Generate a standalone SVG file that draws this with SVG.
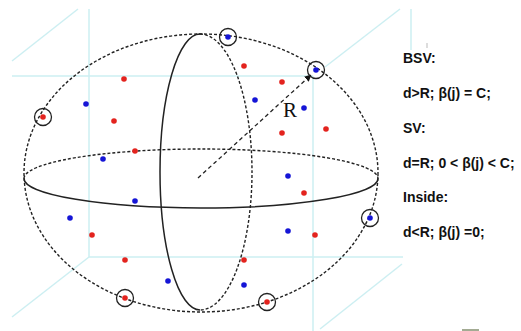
<svg xmlns="http://www.w3.org/2000/svg" width="521" height="331" viewBox="0 0 521 331">
  <style>
    .cube { stroke: #cdeff2; stroke-width: 1.5; fill: none; }
    .dash { stroke: #222; stroke-width: 1.4; fill: none; stroke-dasharray: 3 2; }
    .solid { stroke: #222; stroke-width: 1.5; fill: none; }
    .red { fill: #e3231e; }
    .blue { fill: #1515d6; }
    .ring { stroke: #222; stroke-width: 1.3; fill: none; }
    .lbl { font-family: "Liberation Sans", Arial, sans-serif; font-weight: bold; font-size: 14px; fill: #111; }
  </style>
  <defs>
    <marker id="ah" viewBox="0 0 10 10" refX="9" refY="5" markerWidth="7" markerHeight="7" markerUnits="userSpaceOnUse" orient="auto">
      <path d="M0,0 L10,5 L0,10 z" fill="#111"/>
    </marker>
  </defs>
  <rect width="521" height="331" fill="#fff"/>

  <g id="cube">
    <line class="cube" x1="12" y1="61" x2="78" y2="9"/>
    <line class="cube" x1="89" y1="9" x2="89" y2="257"/>
    <line class="cube" x1="12" y1="76" x2="313" y2="76"/>
    <line class="cube" x1="313" y1="76" x2="313" y2="331"/>
    <line class="cube" x1="325" y1="67" x2="400" y2="9"/>
    <line class="cube" x1="411" y1="9" x2="411" y2="50"/>
    <line class="cube" x1="89" y1="257" x2="403" y2="257"/>
    <line class="cube" x1="12" y1="317" x2="89" y2="257"/>
    <line class="cube" x1="320" y1="329" x2="402" y2="264"/>
  </g>

  <g id="sphere">
    <ellipse class="dash" cx="201" cy="173" rx="177" ry="139"/>
    <path class="dash" d="M24,178.5 A177,29.5 0 0 1 378,178.5"/>
    <path class="solid" d="M24,178.5 A177,29.5 0 0 0 378,178.5"/>
    <path class="solid" d="M200,34 A40,138 0 0 0 200,310"/>
    <path class="dash" d="M200,34 A52,138 0 0 1 200,310"/>
  </g>

  <g id="connectors">
    <line x1="198" y1="178" x2="311" y2="75" stroke="#222" stroke-width="1.3" stroke-dasharray="4 3" marker-end="url(#ah)"/>
  </g>

  <g id="points">
    <circle class="blue" cx="228" cy="37" r="2.8"/>
    <circle class="blue" cx="86" cy="104" r="2.8"/>
    <circle class="blue" cx="255" cy="100" r="2.8"/>
    <circle class="blue" cx="103" cy="159" r="2.8"/>
    <circle class="blue" cx="316" cy="70" r="2.8"/>
    <circle class="blue" cx="304" cy="108" r="2.8"/>
    <circle class="blue" cx="288" cy="176" r="2.8"/>
    <circle class="blue" cx="135" cy="201" r="2.8"/>
    <circle class="blue" cx="70" cy="218" r="2.8"/>
    <circle class="blue" cx="168" cy="281" r="2.8"/>
    <circle class="blue" cx="244" cy="285" r="2.8"/>
    <circle class="blue" cx="370" cy="218" r="2.8"/>
    <circle class="blue" cx="288" cy="231" r="2.8"/>
    <circle class="red" cx="244" cy="66" r="2.8"/>
    <circle class="red" cx="124" cy="79" r="2.8"/>
    <circle class="red" cx="43" cy="117" r="2.8"/>
    <circle class="red" cx="114" cy="121" r="2.8"/>
    <circle class="red" cx="135" cy="151" r="2.8"/>
    <circle class="red" cx="282" cy="82" r="2.8"/>
    <circle class="red" cx="282" cy="133" r="2.8"/>
    <circle class="red" cx="326" cy="129" r="2.8"/>
    <circle class="red" cx="92" cy="235" r="2.8"/>
    <circle class="red" cx="125" cy="260" r="2.8"/>
    <circle class="red" cx="125" cy="298" r="2.8"/>
    <circle class="red" cx="244" cy="260" r="2.8"/>
    <circle class="red" cx="304" cy="193" r="2.8"/>
    <circle class="red" cx="315" cy="235" r="2.8"/>
    <circle class="red" cx="267" cy="302" r="2.8"/>
  </g>

  <g id="rings">
    <circle class="ring" cx="228" cy="37" r="8.5"/>
    <circle class="ring" cx="316" cy="70" r="8.5"/>
    <circle class="ring" cx="43" cy="117" r="8.5"/>
    <circle class="ring" cx="370" cy="218" r="8.5"/>
    <circle class="ring" cx="125" cy="298" r="8.5"/>
    <circle class="ring" cx="267" cy="302" r="8.5"/>
  </g>

  <g id="radius-label">
    <text x="283" y="117" font-family="Liberation Serif, Times New Roman, serif" font-size="21" fill="#111">R</text>
  </g>

  <g id="legend">
    <text class="lbl" x="403" y="63">BSV:</text>
    <text class="lbl" x="403" y="98">d&gt;R; β(j) = C;</text>
    <text class="lbl" x="403" y="132.5">SV:</text>
    <text class="lbl" x="403" y="167.5">d=R; 0 &lt; β(j) &lt; C;</text>
    <text class="lbl" x="403" y="202">Inside:</text>
    <text class="lbl" x="403" y="237">d&lt;R; β(j) =0;</text>
  </g>

  <line x1="427" y1="43" x2="427" y2="48" stroke="#aaa" stroke-width="0.8"/>
  <rect x="462" y="329" width="17" height="2" fill="#a3ab93"/>
</svg>
